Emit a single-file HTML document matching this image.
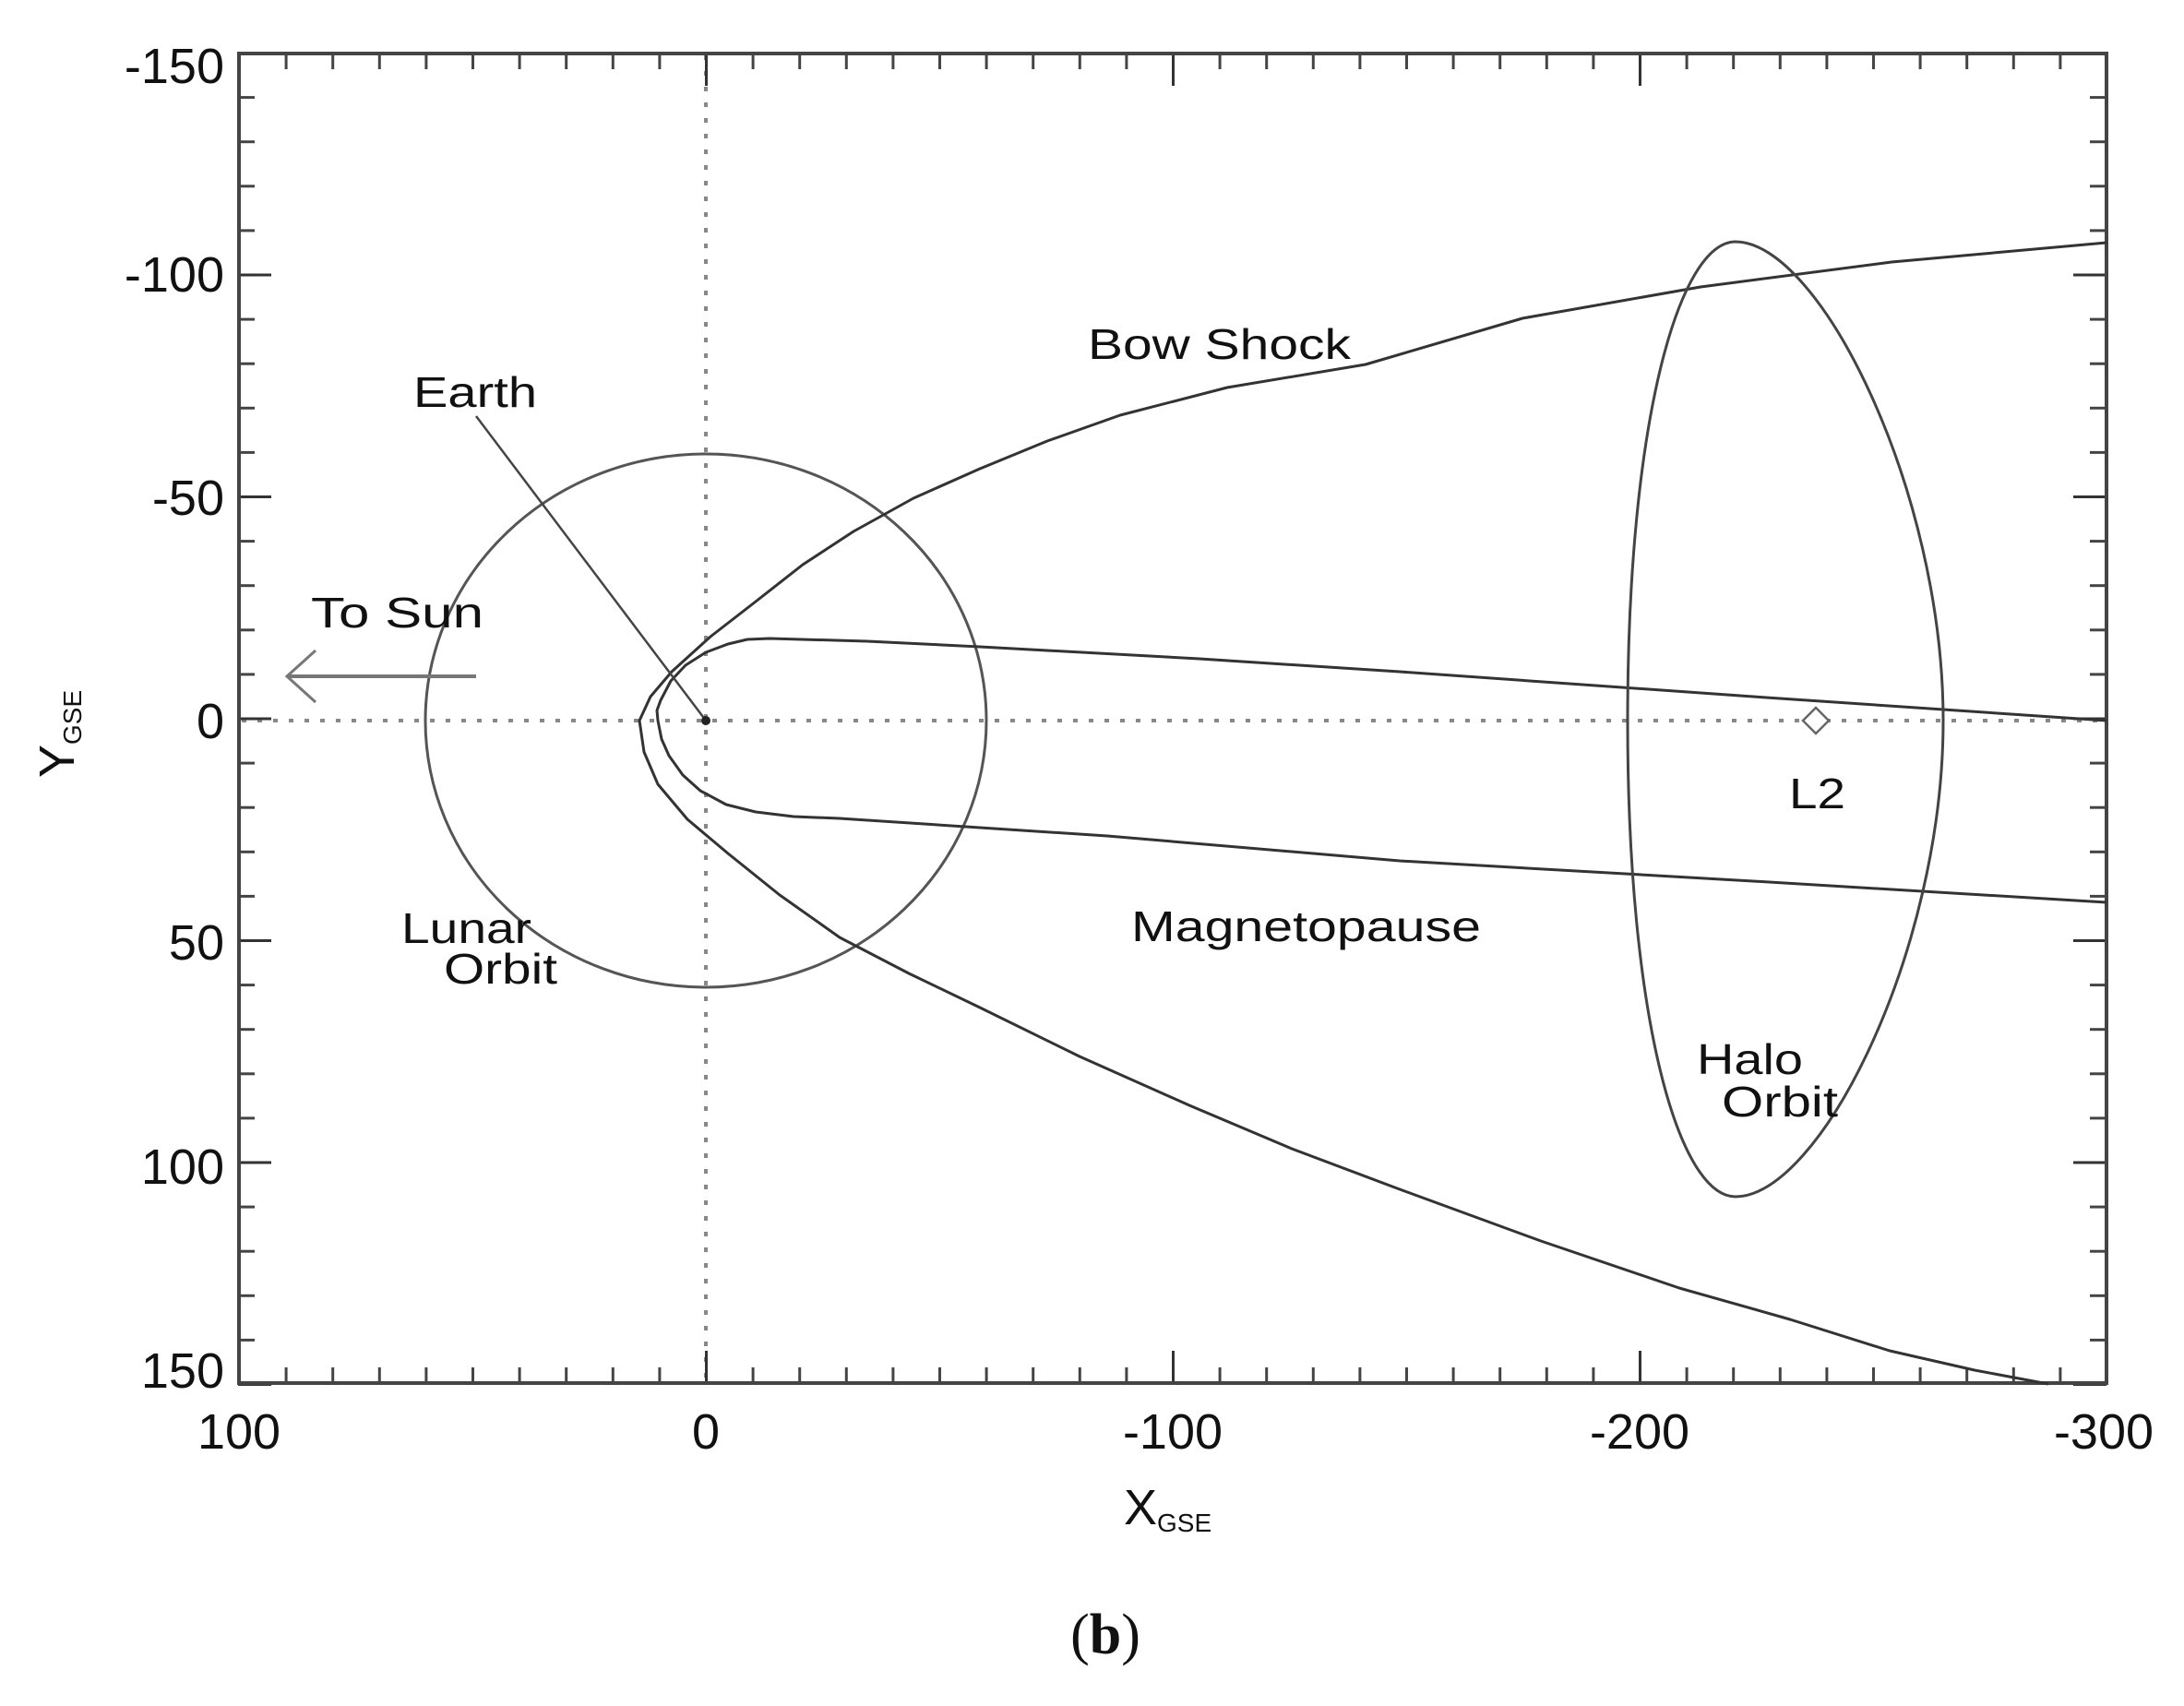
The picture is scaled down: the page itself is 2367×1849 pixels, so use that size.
<!DOCTYPE html>
<html><head><meta charset="utf-8"><style>
html,body{margin:0;padding:0;background:#fff;}
svg{display:block;}
text{font-family:"Liberation Sans",sans-serif;fill:#111;}
</style></head><body>
<svg width="2367" height="1849" viewBox="0 0 2367 1849" xmlns="http://www.w3.org/2000/svg">
<defs>
<pattern id="xmin" patternUnits="userSpaceOnUse" x="258" y="0" width="50.6" height="20"><rect x="0" y="0" width="3" height="20" fill="#444"/></pattern>
<pattern id="xmaj" patternUnits="userSpaceOnUse" x="258" y="0" width="506" height="40"><rect x="0" y="0" width="3" height="40" fill="#333"/></pattern>
<pattern id="ymin" patternUnits="userSpaceOnUse" x="0" y="56" width="20" height="48.1"><rect x="0" y="0" width="20" height="3" fill="#444"/></pattern>
<pattern id="ymaj" patternUnits="userSpaceOnUse" x="0" y="56" width="40" height="240.5"><rect x="0" y="0" width="40" height="3" fill="#333"/></pattern>
</defs>

<line x1="765" y1="60" x2="765" y2="1497" stroke="#888" stroke-width="4" stroke-dasharray="5 12"/>
<line x1="262" y1="781" x2="2280" y2="781" stroke="#888" stroke-width="4" stroke-dasharray="5 12"/>

<rect x="258" y="57" width="2026" height="18" fill="url(#xmin)"/>
<rect x="258" y="1482" width="2026" height="18" fill="url(#xmin)"/>
<rect x="258" y="57" width="2026" height="36" fill="url(#xmaj)"/>
<rect x="258" y="1464" width="2026" height="36" fill="url(#xmaj)"/>
<rect x="258" y="56" width="18" height="1446" fill="url(#ymin)"/>
<rect x="2265" y="56" width="18" height="1446" fill="url(#ymin)"/>
<rect x="258" y="56" width="36" height="1446" fill="url(#ymaj)"/>
<rect x="2247" y="56" width="36" height="1446" fill="url(#ymaj)"/>

<rect x="259" y="58" width="2024" height="1441" fill="none" stroke="#444" stroke-width="4"/>

<ellipse cx="765" cy="781" rx="304" ry="289" fill="none" stroke="#555" stroke-width="3"/>

<polyline fill="none" stroke="#333" stroke-width="3" stroke-linejoin="round" points="2283,263 2050,284 1843,311 1650,345 1480,395 1330,420 1214,450 1135,478 1062,508 990,540 925,576 870,612 819,652 770,690 728,728 705,755 693,781 698,815 713,850 745,888 789,925 845,970 910,1016 985,1055 1062,1092 1170,1145 1289,1198 1400,1245 1517,1289 1670,1345 1820,1396 1940,1430 2048,1464 2140,1485 2220,1500"/>

<polyline fill="none" stroke="#333" stroke-width="3" stroke-linejoin="round" points="2283,781 1900,755 1517,728 1300,714 1062,701 940,695 834,692 810,693 789,698 765,707 743,721 727,738 716,759 712,770 713,781 717,801 725,819 740,840 759,857 787,872 819,880 860,885 910,887 1200,906 1517,933 1900,955 2283,978"/>

<path d="M1764,781 C1764,455 1820,262 1881,262 C1972,262 2106,531 2106,781 C2106,1032 1972,1297 1881,1297 C1820,1297 1764,1107 1764,781 Z" fill="none" stroke="#444" stroke-width="3"/>

<polygon points="1968,767 1982,781 1968,795 1954,781" fill="#fff" stroke="#666" stroke-width="2.5"/>

<line x1="516" y1="451" x2="765" y2="781" stroke="#444" stroke-width="2.5"/>
<circle cx="765" cy="781" r="5" fill="#222"/>

<line x1="516" y1="733" x2="311" y2="733" stroke="#777" stroke-width="4"/>
<polyline points="342,705 311,733 342,761" fill="none" stroke="#777" stroke-width="3"/>

<g font-size="46">
<text x="448" y="441" textLength="134" lengthAdjust="spacingAndGlyphs">Earth</text>
<text x="337" y="680" textLength="187" lengthAdjust="spacingAndGlyphs">To Sun</text>
<text x="1179" y="389" textLength="285" lengthAdjust="spacingAndGlyphs">Bow Shock</text>
<text x="435" y="1022" textLength="141" lengthAdjust="spacingAndGlyphs">Lunar</text>
<text x="481" y="1066" textLength="123" lengthAdjust="spacingAndGlyphs">Orbit</text>
<text x="1226" y="1020" textLength="379" lengthAdjust="spacingAndGlyphs">Magnetopause</text>
<text x="1939" y="876" textLength="61" lengthAdjust="spacingAndGlyphs">L2</text>
<text x="1839" y="1164" textLength="115" lengthAdjust="spacingAndGlyphs">Halo</text>
<text x="1866" y="1210" textLength="126" lengthAdjust="spacingAndGlyphs">Orbit</text>
</g>

<g font-size="54" text-anchor="end">
<text x="243" y="90">-150</text>
<text x="243" y="316">-100</text>
<text x="243" y="558">-50</text>
<text x="243" y="800">0</text>
<text x="243" y="1040">50</text>
<text x="243" y="1283">100</text>
<text x="243" y="1504">150</text>
</g>
<g font-size="54" text-anchor="middle">
<text x="259" y="1570">100</text>
<text x="765" y="1570">0</text>
<text x="1271" y="1570">-100</text>
<text x="1777" y="1570">-200</text>
<text x="2280" y="1570">-300</text>
</g>

<text x="1218" y="1652" font-size="54">X<tspan font-size="28" dy="8">GSE</tspan></text>
<g transform="translate(80,843) rotate(-90)">
<text x="0" y="0" font-size="54">Y<tspan font-size="28" dy="8">GSE</tspan></text>
</g>

<text x="1198" y="1792" font-size="62" text-anchor="middle" style="font-family:'Liberation Serif',serif;">(<tspan font-weight="bold">b</tspan>)</text>
</svg>
</body></html>
